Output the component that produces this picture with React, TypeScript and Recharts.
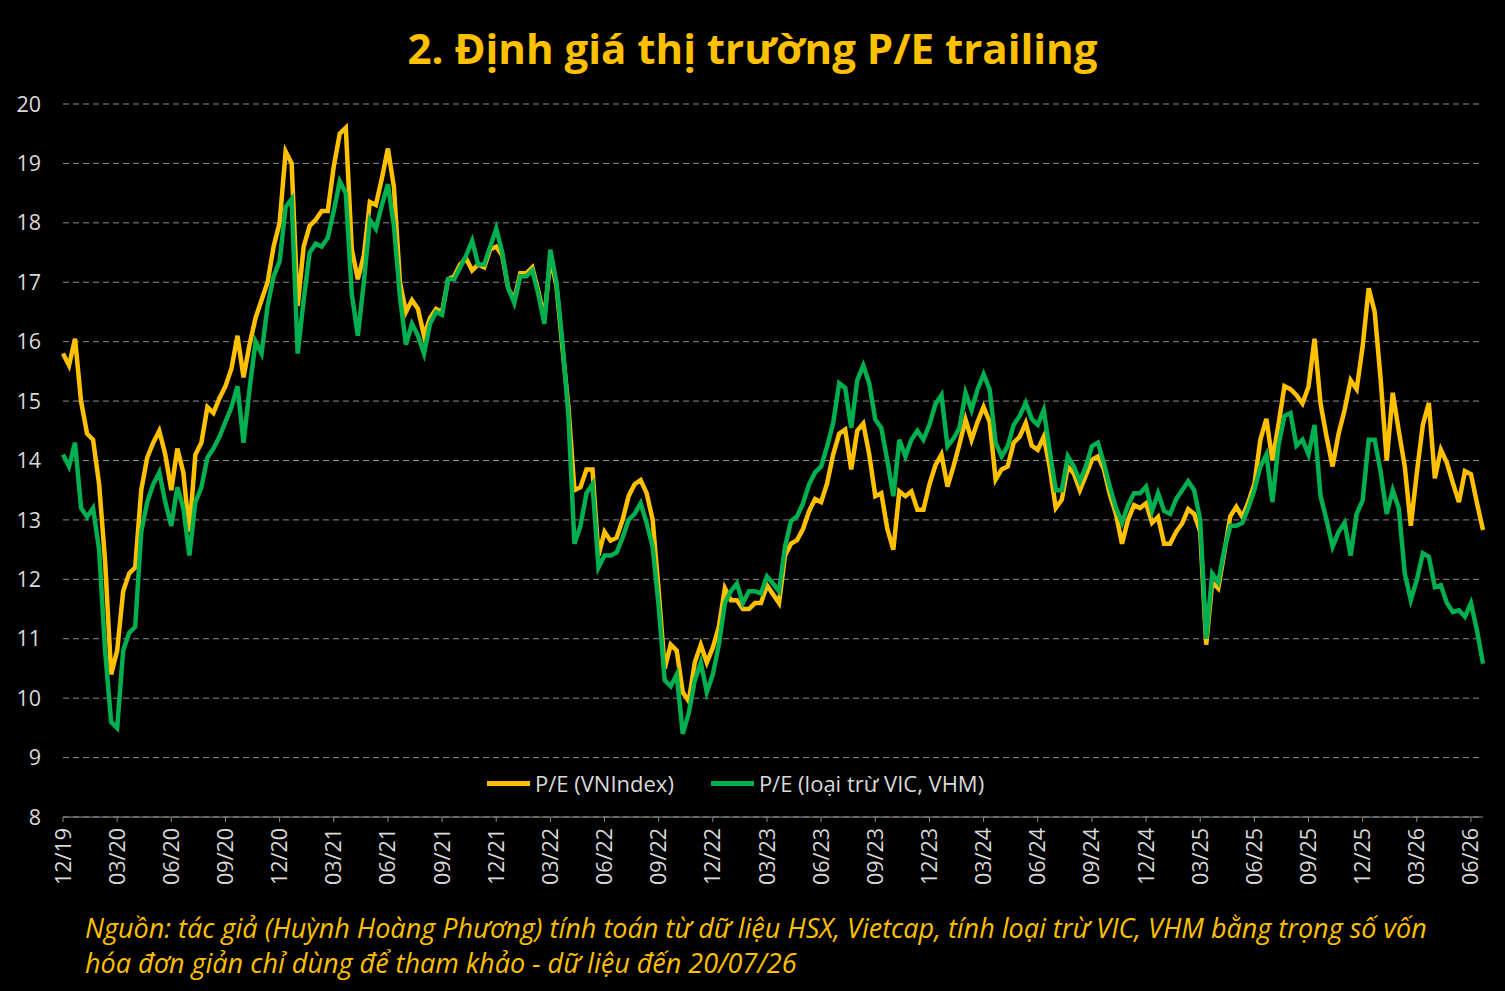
import React from 'react';
import { LineChart, Line, XAxis, YAxis, CartesianGrid } from 'recharts';

// P/E trailing, one reading every ~10 days from 12/2019
const peVNIndex = [
  15.8, 15.6, 16.05, 15.0, 14.45, 14.35, 13.6, 12.3, 10.4, 10.8,
  11.8, 12.1, 12.2, 13.5, 14.05, 14.3, 14.5, 14.1, 13.5, 14.2,
  13.8, 12.8, 14.1, 14.3, 14.9, 14.8, 15.05, 15.25, 15.55, 16.1,
  15.4, 15.95, 16.4, 16.7, 17.0, 17.6, 18.0, 19.2, 19.0, 16.6,
  17.6, 17.95, 18.05, 18.2, 18.2, 18.95, 19.5, 19.6, 17.55, 17.05,
  17.45, 18.35, 18.3, 18.75, 19.25, 18.6, 17.0, 16.5, 16.7, 16.55,
  16.1, 16.4, 16.55, 16.5, 17.05, 17.1, 17.3, 17.4, 17.2, 17.3,
  17.25, 17.55, 17.6, 17.45, 16.9, 16.7, 17.15, 17.15, 17.25, 16.85,
  16.4, 17.4, 16.95, 15.9, 14.9, 13.5, 13.55, 13.85, 13.85, 12.4,
  12.8, 12.65, 12.7, 13.0, 13.4, 13.6, 13.67, 13.45, 13.0, 11.8,
  10.5, 10.9, 10.8, 10.1, 9.95, 10.6, 10.9, 10.6, 10.85, 11.2,
  11.85, 11.65, 11.65, 11.5, 11.5, 11.6, 11.6, 11.9, 11.75, 11.6,
  12.4, 12.6, 12.66, 12.85, 13.15, 13.35, 13.3, 13.62, 14.1, 14.45,
  14.52, 13.85, 14.5, 14.62, 14.1, 13.4, 13.45, 12.85, 12.5, 13.48,
  13.4, 13.48, 13.17, 13.17, 13.6, 13.92, 14.1, 13.56, 13.9, 14.28,
  14.69, 14.35, 14.65, 14.9, 14.65, 13.68, 13.85, 13.9, 14.3, 14.4,
  14.63, 14.25, 14.18, 14.4, 13.88, 13.2, 13.34, 13.9, 13.78, 13.5,
  13.75, 14.01, 14.07, 13.85, 13.42, 13.1, 12.6, 13.0, 13.25, 13.2,
  13.28, 12.95, 13.05, 12.6, 12.6, 12.8, 12.94, 13.18, 13.1, 12.8,
  10.9, 11.95, 11.85, 12.45, 13.06, 13.22, 13.05, 13.3, 13.6, 14.35,
  14.7, 14.0, 14.6, 15.25, 15.2, 15.1, 14.96, 15.24, 16.05, 14.96,
  14.4, 13.9, 14.45, 14.85, 15.35, 15.2, 15.92, 16.9, 16.5, 15.35,
  14.0, 15.14, 14.5, 13.9, 12.9, 13.79, 14.6, 14.97, 13.7, 14.18,
  13.96, 13.62, 13.3, 13.82, 13.77, 13.28, 12.83,
];

const peExVicVhm = [
  14.1, 13.9, 14.3, 13.2, 13.05, 13.2, 12.5, 10.8, 9.6, 9.5,
  10.8, 11.1, 11.2, 12.8, 13.3, 13.6, 13.8, 13.3, 12.9, 13.55,
  13.2, 12.4, 13.3, 13.55, 14.05, 14.2, 14.4, 14.65, 14.9, 15.25,
  14.3, 15.2, 16.0, 15.8, 16.6, 17.1, 17.35, 18.27, 18.4, 15.8,
  16.7, 17.5, 17.65, 17.6, 17.75, 18.2, 18.7, 18.5, 16.8, 16.1,
  17.0, 18.05, 17.9, 18.3, 18.65, 17.95, 16.75, 15.95, 16.3, 16.1,
  15.8, 16.3, 16.5, 16.45, 17.05, 17.05, 17.25, 17.45, 17.7, 17.3,
  17.3, 17.6, 17.9, 17.5, 16.9, 16.65, 17.1, 17.1, 17.2, 16.8,
  16.3, 17.55, 17.0, 16.0, 14.75, 12.6, 12.9, 13.45, 13.6, 12.2,
  12.4, 12.4, 12.45, 12.7, 13.0, 13.1, 13.28, 12.95, 12.55, 11.55,
  10.3, 10.2, 10.4, 9.4, 9.75, 10.3, 10.6, 10.1, 10.4, 10.9,
  11.6, 11.8, 11.93, 11.6, 11.8, 11.8, 11.76, 12.05, 11.93, 11.8,
  12.55, 12.98, 13.06, 13.28, 13.6, 13.8, 13.9, 14.24, 14.63, 15.3,
  15.22, 14.55, 15.35, 15.6, 15.3, 14.69, 14.55, 14.0, 13.4, 14.35,
  14.07, 14.35, 14.5, 14.35, 14.6, 14.95, 15.1, 14.24, 14.37, 14.55,
  15.14, 14.85, 15.2, 15.45, 15.2, 14.3, 14.07, 14.24, 14.6, 14.75,
  14.97, 14.7, 14.6, 14.85, 14.15, 13.5, 13.5, 14.07, 13.9, 13.65,
  13.9, 14.24, 14.3, 13.95, 13.55, 13.2, 12.95, 13.25, 13.45, 13.45,
  13.56, 13.15, 13.45, 13.15, 13.1, 13.35, 13.5, 13.65, 13.5, 13.0,
  11.0, 12.1, 11.95, 12.5, 12.9, 12.9, 12.95, 13.2, 13.5, 13.9,
  14.1, 13.3, 14.25, 14.75, 14.8, 14.25, 14.35, 14.1, 14.6, 13.4,
  13.0, 12.55, 12.8, 12.95, 12.4, 13.1, 13.33, 14.35, 14.35, 13.8,
  13.1, 13.5, 13.2, 12.1, 11.65, 11.99, 12.44, 12.38, 11.87, 11.9,
  11.6, 11.45, 11.48, 11.37, 11.6, 11.14, 10.58,
];

// one label per quarter (9 readings apart)
const tickLabels = [
  '12/19', '03/20', '06/20', '09/20', '12/20', '03/21', '06/21', '09/21', '12/21',
  '03/22', '06/22', '09/22', '12/22', '03/23', '06/23', '09/23', '12/23', '03/24',
  '06/24', '09/24', '12/24', '03/25', '06/25', '09/25', '12/25', '03/26', '06/26',
];
const yTicks = [8, 9, 10, 11, 12, 13, 14, 15, 16, 17, 18, 19, 20];

const seriesNames = ['P/E (VNIndex)', 'P/E (loại trừ VIC, VHM)'];
const YELLOW = '#FFC000';
const GREEN = '#00B050';
const FONT = '"Open Sans", "Noto Sans", sans-serif';

const data = peVNIndex.map((v, i) => ({ i, vn: v, ex: peExVicVhm[i] }));
const xTicks = tickLabels.map((_, k) => k * 9);

const XTick = (props: any) => {
  const { x, y, payload } = props;
  return (
    <g transform={`translate(${x},${y})`}>
      <text
        transform="rotate(-90)"
        textAnchor="end"
        dy="0.35em"
        fill="#d9d9d9"
        fontSize={21.5}
        fontFamily={FONT}
      >
        {tickLabels[Math.round(payload.value / 9)]}
      </text>
    </g>
  );
};

export default function App() {
  return (
    <div
      style={{
        position: 'absolute',
        left: 0,
        top: 0,
        width: 1505,
        height: 991,
        background: '#000',
        fontFamily: FONT,
        overflow: 'hidden',
      }}
    >
      <div
        style={{
          position: 'absolute',
          top: 19,
          left: 0,
          width: 1505,
          textAlign: 'center',
          color: YELLOW,
          fontWeight: 700,
          fontSize: 42,
          lineHeight: '58px',
          whiteSpace: 'nowrap',
        }}
      >
        2. Định giá thị trường P/E trailing
      </div>

      <LineChart
        width={1505}
        height={991}
        data={data}
        margin={{ top: 104, right: 22, bottom: 104, left: 8 }}
      >
        <CartesianGrid vertical={false} stroke="#8c8c8c" strokeDasharray="6 4" />
        <XAxis
          dataKey="i"
          type="number"
          domain={[0, 236]}
          ticks={xTicks}
          interval={0}
          height={70}
          tick={<XTick />}
          tickSize={5}
          tickMargin={6}
          stroke="#8c8c8c"
          tickLine={{ stroke: '#8c8c8c' }}
        />
        <YAxis
          type="number"
          domain={[8, 20]}
          ticks={yTicks}
          interval={0}
          width={55}
          axisLine={false}
          tickLine={false}
          tickSize={0}
          tickMargin={22}
          tick={{ fill: '#d9d9d9', fontSize: 21.5, fontFamily: FONT }}
        />
        <Line
          dataKey="vn"
          name={seriesNames[0]}
          stroke={YELLOW}
          strokeWidth={4.5}
          dot={false}
          isAnimationActive={false}
        />
        <Line
          dataKey="ex"
          name={seriesNames[1]}
          stroke={GREEN}
          strokeWidth={4.5}
          dot={false}
          isAnimationActive={false}
        />
      </LineChart>

      <div
        style={{
          position: 'absolute',
          left: 487,
          top: 768,
          height: 30,
          display: 'flex',
          alignItems: 'center',
          color: '#d9d9d9',
          fontSize: 22,
          whiteSpace: 'nowrap',
        }}
      >
        <span style={{ display: 'inline-block', width: 43, height: 5, background: YELLOW, marginRight: 5 }} />
        <span style={{ marginRight: 37 }}>{seriesNames[0]}</span>
        <span style={{ display: 'inline-block', width: 43, height: 5, background: GREEN, marginRight: 5 }} />
        <span>{seriesNames[1]}</span>
      </div>

      <div
        style={{
          position: 'absolute',
          left: 85,
          top: 910,
          color: YELLOW,
          fontStyle: 'italic',
          fontSize: 27,
          lineHeight: '35px',
          whiteSpace: 'nowrap',
        }}
      >
        Nguồn: tác giả (Huỳnh Hoàng Phương) tính toán từ dữ liệu HSX, Vietcap, tính loại trừ VIC, VHM bằng trọng số vốn
      </div>
      <div
        style={{
          position: 'absolute',
          left: 85,
          top: 945,
          color: YELLOW,
          fontStyle: 'italic',
          fontSize: 27,
          lineHeight: '35px',
          whiteSpace: 'nowrap',
        }}
      >
        hóa đơn giản chỉ dùng để tham khảo - dữ liệu đến 20/07/26
      </div>
    </div>
  );
}
